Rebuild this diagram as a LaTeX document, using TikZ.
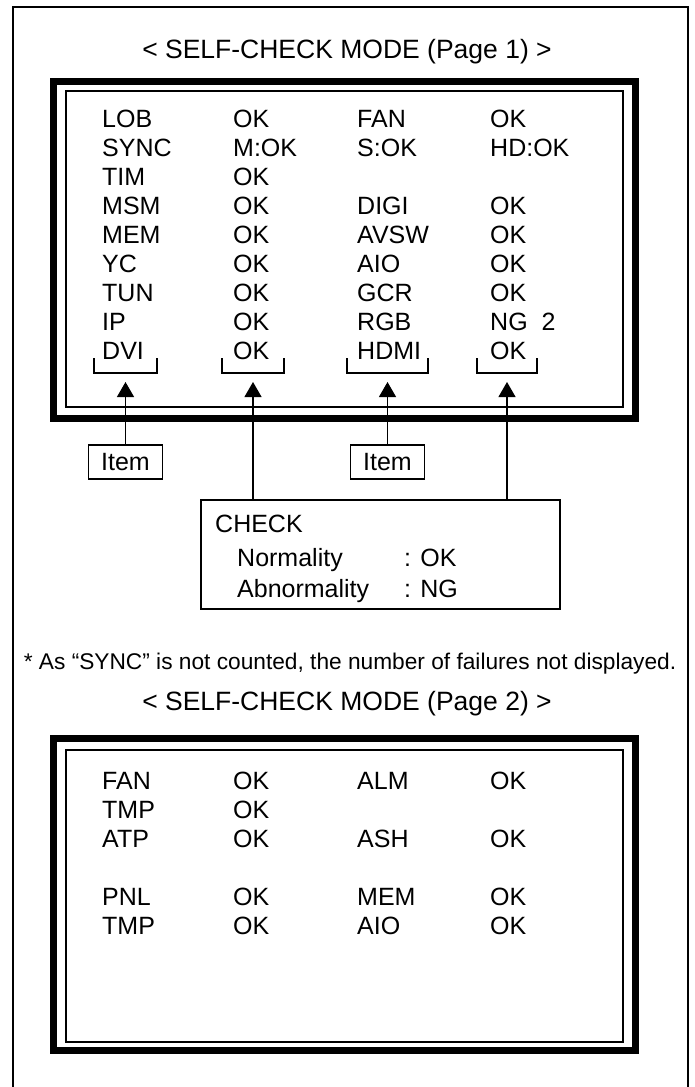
\documentclass[tikz,border=0pt]{standalone}
\usepackage{fontspec}
\setmainfont{Liberation Sans}
\usetikzlibrary{arrows.meta,positioning}

\tikzset{
  txt/.style={anchor=base west, inner sep=0pt, font=\fontsize{25}{29}\selectfont},
  ttl/.style={inner sep=0pt, font=\fontsize{26.5}{31}\selectfont},
  frameout/.style={line width=7pt},
  framein/.style={line width=1.6pt},
  boxed/.style={draw, line width=1.2pt, inner sep=0pt, font=\fontsize{25}{29}\selectfont},
  arr/.style={line width=1.2pt, -{Triangle[length=15pt,width=17pt]}},
  brk/.style={line width=1.2pt},
}

\begin{document}
\begin{tikzpicture}[x=1pt,y=-1pt]
    \useasboundingbox (0,0) rectangle (694,1087);
    % Outer frame, open at the bottom
    \draw[line width=1.5pt] (13,1087) -- (13,7) -- (688,7) -- (688,1087);

    % Page 1 screen
    \node[ttl] (title1) at (347,52) {< SELF-CHECK MODE (Page 1) >};
    \draw[frameout] (53.5,81.5) rectangle (635.5,418.5);
    \draw[framein] (66,91) rectangle (623,407);
    \foreach \a/\b/\c/\d [count=\i] in {LOB/OK/FAN/OK, SYNC/M:OK/S:OK/HD:OK,
            TIM/OK/{}/{}, MSM/OK/DIGI/OK, MEM/OK/AVSW/OK, YC/OK/AIO/OK,
            TUN/OK/GCR/OK, IP/OK/RGB/NG\ \ 2, DVI/OK/HDMI/OK} {
            \node[txt] (pa\i) at (102,98+29*\i) {\a};
            \node[txt] (pb\i) at (233,98+29*\i) {\b};
            \node[txt] (pc\i) at (357,98+29*\i) {\c};
            \node[txt] (pd\i) at (490,98+29*\i) {\d};
        }

    % Brackets under the last row and arrow tips
    \foreach \l/\r/\n in {94/157/1, 222/284/2, 347/428/3, 477/537/4} {
            \draw[brk] (\l,358) -- (\l,373) -- (\r,373) -- (\r,358);
            \coordinate (tip\n) at ({(\l+\r)/2},382);
        }

    % Item labels
    \node[boxed, minimum width=74pt, minimum height=34pt] (item1) at (tip1 |- 0,462) {Item};
    \node[boxed, minimum width=74pt, minimum height=34pt] (item2) at (tip3 |- 0,462) {Item};
    \draw[arr] (item1) -- (tip1);
    \draw[arr] (item2) -- (tip3);

    % Check legend
    \node[boxed, minimum width=359pt, minimum height=109pt] (check) at (380.5,554.5) {};
    \node[txt] (chk) at (215,532) {CHECK};
    \node[txt] (norm) at (237,566) {Normality};
    \node[txt] (normv) at (404,566) {: OK};
    \node[txt] (abn) at (237,597) {Abnormality};
    \node[txt] (abnv) at (404,597) {: NG};
    \draw[arr] (check.north -| tip2) -- (tip2);
    \draw[arr] (check.north -| tip4) -- (tip4);

    \node[inner sep=0pt, font=\fontsize{22.7}{27}\selectfont] (note) at (350,664)
    {* As “SYNC” is not counted, the number of failures not displayed.};

    % Page 2 screen
    \node[ttl] (title2) at (347,704) {< SELF-CHECK MODE (Page 2) >};
    \draw[frameout] (53.5,738.5) rectangle (635.5,1050.5);
    \draw[framein] (66,750) rectangle (623,1042);
    \foreach \a/\b/\c/\d [count=\i] in {FAN/OK/ALM/OK, TMP/OK/{}/{},
            ATP/OK/ASH/OK, {}/{}/{}/{}, PNL/OK/MEM/OK, TMP/OK/AIO/OK} {
            \node[txt] (qa\i) at (102,760+29*\i) {\a};
            \node[txt] (qb\i) at (233,760+29*\i) {\b};
            \node[txt] (qc\i) at (357,760+29*\i) {\c};
            \node[txt] (qd\i) at (490,760+29*\i) {\d};
        }
\end{tikzpicture}
\end{document}
